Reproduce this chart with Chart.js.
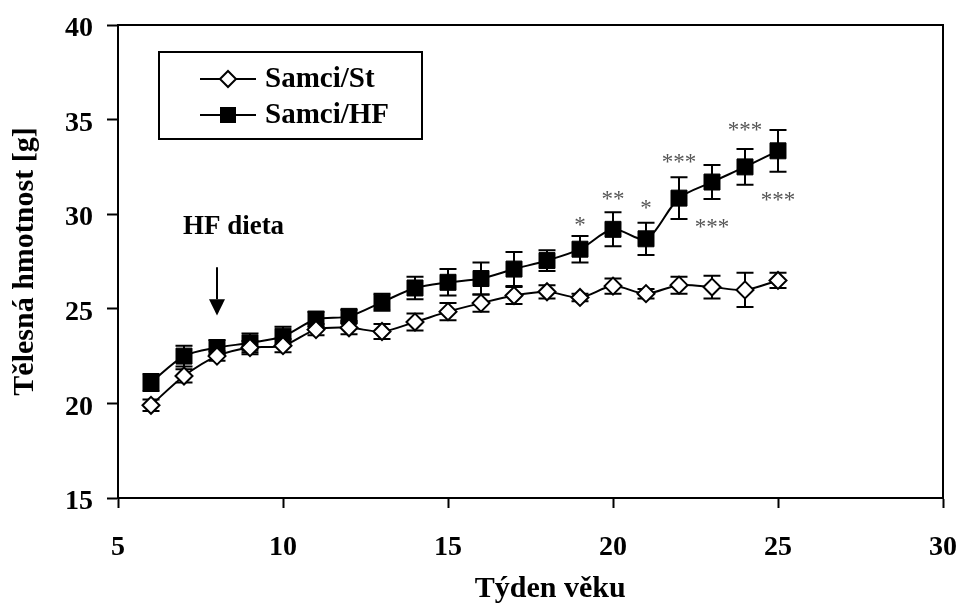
<!DOCTYPE html>
<html>
<head>
<meta charset="utf-8">
<script src="https://cdn.jsdelivr.net/npm/chart.js@4.4.1/dist/chart.umd.min.js"></script>
<style>
    html, body { margin: 0; padding: 0; background: #fff; }
</style>
</head>
<body>
<canvas id="weightChart" width="962" height="606"></canvas>
<script>
// Data (week of age, body weight in g, SEM)
const weeks = [6, 7, 8, 9, 10, 11, 12, 13, 14, 15, 16, 17, 18, 19, 20, 21, 22, 23, 24, 25];
const stValues = [19.9, 21.45, 22.5, 22.95, 23.05, 23.9, 24.0, 23.8, 24.3, 24.85, 25.3, 25.7, 25.9, 25.6, 26.2, 25.8, 26.25, 26.15, 26.0, 26.5];
const stErrors = [0.3, 0.35, 0.25, 0.35, 0.35, 0.3, 0.35, 0.4, 0.45, 0.45, 0.45, 0.45, 0.35, 0.2, 0.4, 0.25, 0.45, 0.6, 0.9, 0.4];
const hfValues = [21.1, 22.5, 22.95, 23.2, 23.55, 24.45, 24.6, 25.35, 26.1, 26.4, 26.6, 27.1, 27.55, 28.15, 29.2, 28.7, 30.85, 31.7, 32.5, 33.35];
const hfErrors = [0.45, 0.55, 0.4, 0.5, 0.5, 0.4, 0.35, 0.45, 0.6, 0.7, 0.85, 0.9, 0.55, 0.7, 0.9, 0.85, 1.1, 0.9, 0.95, 1.1];

// significance marks
const sigWeeks = [19, 20, 21, 22, 23, 24, 25];
const sigLabels = ['*', '**', '*', '***', '***', '***', '***'];
const sigY = [29.6, 30.95, 30.5, 32.9, 29.5, 34.6, 30.9];

const seriesNames = ['Samci/St', 'Samci/HF'];
const xTicks = [5, 10, 15, 20, 25, 30];
const yTicks = [15, 20, 25, 30, 35, 40];
const xTitle = 'Týden věku';
const yTitle = 'Tělesná hmotnost [g]';

const SERIF = "'Liberation Serif', 'Times New Roman', serif";

function toPoints(values) {
    return weeks.map((w, i) => ({ x: w, y: values[i] }));
}

function drawErrorBars(ctx, xScale, yScale, values, errors) {
    ctx.save();
    ctx.strokeStyle = '#000';
    ctx.lineWidth = 2;
    for (let i = 0; i < weeks.length; i++) {
        const x = xScale.getPixelForValue(weeks[i]);
        const yTop = yScale.getPixelForValue(values[i] + errors[i]);
        const yBot = yScale.getPixelForValue(values[i] - errors[i]);
        ctx.beginPath();
        ctx.moveTo(x, yTop); ctx.lineTo(x, yBot);
        ctx.moveTo(x - 8.5, yTop); ctx.lineTo(x + 8.5, yTop);
        ctx.moveTo(x - 8.5, yBot); ctx.lineTo(x + 8.5, yBot);
        ctx.stroke();
    }
    ctx.restore();
}

function drawLegend(ctx, area) {
    const left = area.left + 41, top = area.top + 27;
    ctx.save();
    ctx.strokeStyle = '#000';
    ctx.lineWidth = 2;
    ctx.strokeRect(left, top, 263, 87);
    const rows = [top + 27, top + 63];
    ctx.font = 'bold 29px ' + SERIF;
    ctx.textBaseline = 'middle';
    ctx.fillStyle = '#000';
    for (let r = 0; r < 2; r++) {
        const y = rows[r];
        const mx = left + 69;
        ctx.beginPath();
        ctx.moveTo(left + 41, y); ctx.lineTo(left + 97, y);
        ctx.stroke();
        if (r == 0) {
            ctx.beginPath();
            ctx.moveTo(mx - 8, y); ctx.lineTo(mx, y - 8); ctx.lineTo(mx + 8, y); ctx.lineTo(mx, y + 8);
            ctx.closePath();
            ctx.fillStyle = '#fff';
            ctx.fill();
            ctx.stroke();
            ctx.fillStyle = '#000';
        } else {
            ctx.fillRect(mx - 8, y - 8, 16, 16);
        }
        ctx.fillText(seriesNames[r], left + 106, y + 1);
    }
    ctx.restore();
}

const decorPlugin = {
    id: 'decor',
    beforeDatasetsDraw(chart) {
        const { ctx, scales } = chart;
        drawErrorBars(ctx, scales.x, scales.y, stValues, stErrors);
        drawErrorBars(ctx, scales.x, scales.y, hfValues, hfErrors);
    },
    afterDraw(chart) {
        const { ctx, chartArea, scales } = chart;
        const xs = scales.x, ys = scales.y;
        ctx.save();
        // top and right side of the frame
        ctx.strokeStyle = '#000';
        ctx.lineWidth = 2;
        ctx.beginPath();
        ctx.moveTo(chartArea.left, chartArea.top);
        ctx.lineTo(chartArea.right, chartArea.top);
        ctx.lineTo(chartArea.right, chartArea.bottom);
        ctx.stroke();

        // x axis title sits a bit right of the centre in the original
        ctx.fillStyle = '#000';
        ctx.font = 'bold 30px ' + SERIF;
        ctx.textAlign = 'center';
        ctx.textBaseline = 'alphabetic';
        ctx.fillText(xTitle, xs.getPixelForValue(18.1), chart.height - 9);

        // significance stars
        ctx.fillStyle = '#555';
        ctx.font = '23px ' + SERIF;
        for (let i = 0; i < sigWeeks.length; i++) {
            ctx.fillText(sigLabels[i], xs.getPixelForValue(sigWeeks[i]), ys.getPixelForValue(sigY[i]) + 10);
        }

        // start of the HF diet
        ctx.fillStyle = '#000';
        ctx.font = 'bold 27px ' + SERIF;
        ctx.fillText('HF dieta', xs.getPixelForValue(8.5), ys.getPixelForValue(28.95));
        const ax = xs.getPixelForValue(8);
        const aTop = ys.getPixelForValue(27.2), aBase = ys.getPixelForValue(25.5), aTip = ys.getPixelForValue(24.65);
        ctx.beginPath();
        ctx.moveTo(ax, aTop); ctx.lineTo(ax, aBase);
        ctx.stroke();
        ctx.beginPath();
        ctx.moveTo(ax - 8, aBase); ctx.lineTo(ax + 8, aBase); ctx.lineTo(ax, aTip);
        ctx.closePath();
        ctx.fill();
        ctx.restore();

        drawLegend(ctx, chartArea);
    }
};

const tickFont = { family: SERIF, size: 28, weight: 'bold' };
const titleFont = { family: SERIF, size: 30, weight: 'bold', lineHeight: 1 };

const data = {
    datasets: [{
        label: seriesNames[0],
        data: toPoints(stValues),
        borderColor: '#000',
        borderWidth: 2,
        tension: 0.3,
        fill: false,
        pointStyle: 'rectRot',
        pointRadius: 8.5,
        pointBackgroundColor: '#fff',
        pointBorderColor: '#000',
        pointBorderWidth: 2
    }, {
        label: seriesNames[1],
        data: toPoints(hfValues),
        borderColor: '#000',
        borderWidth: 2,
        tension: 0.3,
        fill: false,
        pointStyle: 'rect',
        pointRadius: 11.3,
        pointBackgroundColor: '#000',
        pointBorderColor: '#000',
        pointBorderWidth: 1
    }]
};

const options = {
    responsive: false,
    animation: false,
    layout: { padding: { top: 25, right: 19, left: 0, bottom: 0 } },
    plugins: {
        legend: { display: false },
        tooltip: { enabled: false }
    },
    scales: {
        x: {
            type: 'linear',
            min: xTicks[0],
            max: xTicks[xTicks.length - 1],
            afterBuildTicks: s => { s.ticks = xTicks.map(v => ({ value: v })); },
            // fixed box, no extra room for the end labels
            afterFit: s => { s.height = 108; s.paddingLeft = 0; s.paddingRight = 0; },
            ticks: { color: '#000', font: tickFont, padding: 23, maxRotation: 0 },
            grid: { display: true, drawOnChartArea: false, drawTicks: true, tickLength: 10, tickWidth: 2, tickColor: '#000' },
            border: { display: true, color: '#000', width: 2 },
            title: { display: false }
        },
        y: {
            min: yTicks[0],
            max: yTicks[yTicks.length - 1],
            afterBuildTicks: s => { s.ticks = yTicks.map(v => ({ value: v })); },
            afterFit: s => { s.width = 118; s.paddingTop = 0; s.paddingBottom = 0; },
            ticks: { color: '#000', font: tickFont, padding: 14, labelOffset: 4 },
            grid: { display: true, drawOnChartArea: false, drawTicks: true, tickLength: 11, tickWidth: 2, tickColor: '#000' },
            border: { display: true, color: '#000', width: 2 },
            title: { display: true, text: yTitle, color: '#000', font: titleFont, padding: { top: 10, bottom: 0 } }
        }
    }
};

new Chart('weightChart', { type: 'line', data, options, plugins: [decorPlugin] });
</script>
</body>
</html>
